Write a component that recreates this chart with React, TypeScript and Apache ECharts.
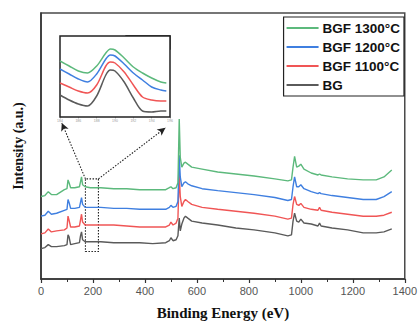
import React, { useEffect, useRef } from "react";
import * as echarts from "echarts";

// Survey scan (binding energy, eV)
const energies = [0, 15, 28, 40, 60, 90, 100, 104, 108, 114, 130, 148, 152, 156, 160, 170, 190, 230, 280, 330, 380, 430, 480, 494, 500, 508, 520, 527, 532, 536, 542, 550, 556, 565, 580, 620, 680, 750, 820, 900, 950, 964, 970, 976, 984, 992, 1000, 1012, 1040, 1066, 1072, 1078, 1120, 1180, 1240, 1290, 1320, 1350];
const bgValues = [31, 32, 35, 33, 33, 34, 35, 45, 43, 35, 36, 37, 44, 48, 40, 38, 38, 38, 37, 37, 37, 36, 37, 39, 42, 39, 40, 44, 62, 49, 56, 62, 64, 62, 59, 57, 55, 52, 50, 47, 44, 45, 59, 67, 59, 58, 61, 57, 56, 54, 57, 54, 52, 50, 47, 47, 48, 51];
const bgf1100Values = [46, 47, 51, 48, 49, 50, 52, 64, 60, 53, 53, 54, 60, 66, 58, 55, 55, 55, 55, 54, 53, 53, 53, 55, 58, 55, 57, 62, 107, 84, 74, 79, 81, 79, 76, 73, 71, 69, 67, 64, 61, 62, 76, 84, 76, 75, 77, 73, 71, 70, 73, 70, 68, 66, 64, 64, 65, 68];
const bgf1200Values = [64, 65, 69, 66, 67, 70, 71, 81, 78, 72, 72, 73, 78, 83, 76, 73, 73, 73, 72, 72, 71, 71, 71, 73, 75, 73, 74, 79, 126, 104, 94, 98, 99, 97, 95, 92, 90, 88, 86, 83, 80, 81, 94, 104, 94, 94, 96, 92, 89, 87, 88, 87, 85, 83, 81, 81, 84, 89];
const bgf1300Values = [84, 85, 89, 86, 86, 91, 92, 101, 98, 93, 93, 94, 99, 104, 96, 94, 93, 93, 92, 92, 91, 91, 91, 93, 94, 92, 93, 98, 163, 124, 114, 118, 119, 117, 114, 112, 109, 107, 105, 102, 100, 101, 114, 125, 114, 115, 117, 112, 108, 106, 107, 106, 104, 102, 101, 101, 104, 111];

// B1s high-resolution scan (inset)
const b1sEnergies = [184, 185, 186, 187, 188, 189, 189.5, 190, 191, 192, 193, 194, 195, 195.6];
const b1sBG = [22, 17, 13, 11, 21, 42, 47, 46, 35, 19, 6, 5, 6, 6];
const b1s1100 = [34, 30, 26, 24, 32, 51, 55, 54, 45, 32, 20, 17, 16, 16];
const b1s1200 = [48, 43, 38, 35, 43, 58, 62, 61, 53, 44, 37, 30, 27, 26];
const b1s1300 = [56, 51, 46, 44, 51, 64, 68, 67, 59, 50, 44, 39, 35, 34];

const seriesNames = ["BGF 1300°C", "BGF 1200°C", "BGF 1100°C", "BG"];
const seriesColors = ["#5cb97c", "#3f7fe0", "#f05555", "#5a5a5a"];

// zoom box (eV, intensity) and arrow targets
const zoomBox = { x0: 171, x1: 221, y0: 28, y1: 102 };
const arrowTargets = [
  [80, 159],
  [479, 154],
];

const pair = (xs: number[], ys: number[]) => xs.map((x, i) => [x, ys[i]]);
const SERIF = "'Times New Roman', 'Liberation Serif', serif";
const SANS = "Arial, 'Liberation Sans', sans-serif";

export default function App() {
  const ref = useRef<HTMLDivElement>(null);
  useEffect(() => {
    if (!ref.current) return;
    const chart = echarts.init(ref.current, null, { renderer: "svg" });
    const mainData = [bgf1300Values, bgf1200Values, bgf1100Values, bgValues];
    const insetData = [b1s1300, b1s1200, b1s1100, b1sBG];
    const mainSeries: any[] = [3, 2, 1, 0].map((i) => ({
      name: seriesNames[i],
      type: "line",
      xAxisIndex: 0,
      yAxisIndex: 0,
      symbol: "none",
      data: pair(energies, mainData[i]),
      lineStyle: { color: seriesColors[i], width: 1.4 },
      itemStyle: { color: seriesColors[i] },
      z: 3,
    }));
    mainSeries[0].markArea = {
      silent: true,
      itemStyle: { color: "rgba(0,0,0,0)", borderColor: "#222", borderType: [1.5, 1.5], borderWidth: 1.1 },
      data: [[{ coord: [zoomBox.x0, zoomBox.y0] }, { coord: [zoomBox.x1, zoomBox.y1] }]],
    };
    mainSeries[0].markLine = {
      silent: true,
      symbol: ["none", "arrow"],
      symbolSize: [6, 8],
      label: { show: false },
      lineStyle: { color: "#222", type: [1.5, 1.5], width: 1.1 },
      data: [
        [{ coord: [zoomBox.x0, zoomBox.y1] }, { coord: arrowTargets[0] }],
        [{ coord: [zoomBox.x1, zoomBox.y1] }, { coord: arrowTargets[1] }],
      ],
    };
    const insetSeries = [3, 2, 1, 0].map((i) => ({
      name: seriesNames[i] + " B1s",
      type: "line",
      xAxisIndex: 1,
      yAxisIndex: 1,
      symbol: "none",
      smooth: 0.3,
      data: pair(b1sEnergies, insetData[i]),
      lineStyle: { color: seriesColors[i], width: 1.5 },
      z: 6,
    }));

    chart.setOption({
      animation: false,
      backgroundColor: "#ffffff",
      grid: [
        { left: 41, right: 11, top: 13, bottom: 41, show: true, borderColor: "#4a4a4a", borderWidth: 1.5, backgroundColor: "transparent", z: 0 },
        { left: 60, top: 36, width: 110, height: 81, show: true, borderColor: "#222", borderWidth: 1.5, backgroundColor: "#fff", z: 5 },
      ],
      legend: {
        orient: "vertical",
        right: 16,
        top: 17,
        data: seriesNames,
        icon: "rect",
        itemWidth: 32,
        itemHeight: 2,
        itemGap: 5,
        padding: [4, 4, 4, 3],
        borderColor: "#222",
        borderWidth: 1.2,
        backgroundColor: "#fff",
        textStyle: { fontFamily: SANS, fontWeight: "bold", fontSize: 13.5, color: "#111", padding: [0, 0, 0, -1] },
      },
      xAxis: [
        {
          type: "value",
          gridIndex: 0,
          min: 0,
          max: 1400,
          interval: 200,
          name: "Binding Energy (eV)",
          nameLocation: "middle",
          nameGap: 26,
          nameTextStyle: { fontFamily: SERIF, fontWeight: "bold", fontSize: 15, color: "#111" },
          axisLine: { show: true, lineStyle: { color: "#333", width: 1.5 } },
          axisTick: { show: true, length: 4, lineStyle: { color: "#333", width: 1.2 } },
          minorTick: { show: true, splitNumber: 2, length: 3, lineStyle: { color: "#333", width: 1 } },
          axisLabel: { fontFamily: SANS, fontSize: 11, color: "#555", margin: 6, formatter: (v: number) => String(v) },
          splitLine: { show: false },
        },
        {
          type: "value",
          gridIndex: 1,
          min: 184,
          max: 196,
          interval: 2,
          axisLine: { show: false },
          axisTick: { show: true, length: 1.5, lineStyle: { color: "#888", width: 0.6 } },
          axisLabel: { fontSize: 3.5, color: "#999", margin: 2, formatter: (v: number) => String(v) },
          splitLine: { show: false },
        },
      ],
      yAxis: [
        {
          type: "value",
          gridIndex: 0,
          min: 0,
          max: 271,
          name: "Intensity (a.u.)",
          nameLocation: "middle",
          nameGap: 16,
          nameTextStyle: { fontFamily: SERIF, fontWeight: "bold", fontSize: 14, color: "#111" },
          axisLine: { show: true, lineStyle: { color: "#333", width: 1.5 } },
          axisTick: { show: false },
          axisLabel: { show: false },
          splitLine: { show: false },
        },
        {
          type: "value",
          gridIndex: 1,
          min: 0,
          max: 81,
          axisLine: { show: false },
          axisTick: { show: false },
          axisLabel: { show: false },
          splitLine: { show: false },
        },
      ],
      graphic: [
        {
          type: "group",
          z: 20,
          children: [
            { type: "rect", shape: { x: 126, y: 36, width: 44, height: 13 }, style: { fill: "#fff", stroke: "#111", lineWidth: 1.3 } },
            { type: "text", x: 148, y: 42.5, style: { text: "B1s Scan", fontFamily: SANS, fontWeight: "bold", fontSize: 9, fill: "#111", align: "center", verticalAlign: "middle" } },
          ],
        },
      ],
      series: [...mainSeries, ...insetSeries],
    });
    return () => chart.dispose();
  }, []);
  return <div ref={ref} style={{ width: 420, height: 325, position: "absolute", left: 0, top: 0 }} />;
}
